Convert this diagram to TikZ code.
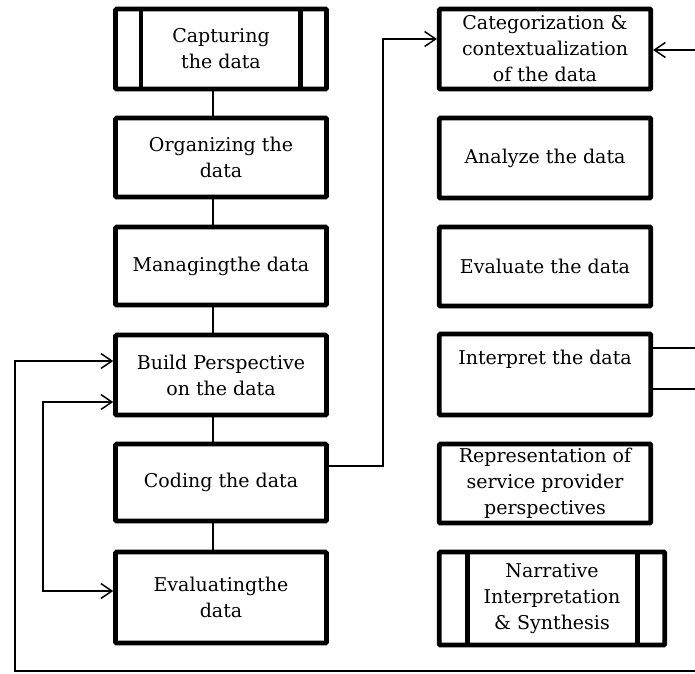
\documentclass[tikz,border=0pt]{standalone}
\usepackage{fontspec}
\setmainfont{DejaVu Serif}
\usetikzlibrary{arrows.meta}
\begin{document}
\begin{tikzpicture}[x=1pt,y=-1pt,
  box/.style={draw, line width=4.6pt, rounded corners=1pt, align=center,
    font=\fontsize{19}{26}\selectfont, inner sep=0pt},
  bar/.style={line width=4.6pt},
  link/.style={line width=1.5pt},
  arr/.style={link, -{Straight Barb[length=11pt,width=15pt]}},
  darr/.style={link, {Straight Barb[length=11pt,width=15pt]}-{Straight Barb[length=11pt,width=15pt]}}]
\useasboundingbox (0,0) rectangle (695,673);
% left column
\node[box, minimum width=211pt, minimum height=80pt] (L1) at (221,49) {Capturing\\the data};
\node[box, minimum width=211pt, minimum height=79pt] (L2) at (221,157.5) {Organizing the\\data};
\node[box, minimum width=211pt, minimum height=78pt] (L3) at (221,266) {Managingthe data};
\node[box, minimum width=211pt, minimum height=80pt] (L4) at (221,375) {Build Perspective\\on the data};
\node[box, minimum width=211pt, minimum height=77pt] (L5) at (221,482.5) {Coding the data};
\node[box, minimum width=211pt, minimum height=91pt] (L6) at (221,597.5) {Evaluatingthe\\data};
% right column
\node[box, minimum width=211.5pt, minimum height=80pt] (R1) at (545,49) {Categorization \&\\contextualization\\of the data};
\node[box, minimum width=211.5pt, minimum height=80pt] (R2) at (545,158) {Analyze the data};
\node[box, minimum width=211.5pt, minimum height=79pt] (R3) at (545,266.5) {Evaluate the data};
\node[box, minimum width=211.5pt, minimum height=81pt] (R4) at (545,374.5) {Interpret the data\\ \strut};
\node[box, minimum width=211.5pt, minimum height=79pt] (R5) at (545,483.5) {Representation of\\service provider\\perspectives};
\node[box, minimum width=225.5pt, minimum height=93pt] (R6) at (552,598.5) {Narrative\\Interpretation\\\& Synthesis};
% inner bars of predefined-process boxes
\draw[bar] (L1.north west -| 141,0) -- (L1.south west -| 141,0);
\draw[bar] (L1.north west -| 300.5,0) -- (L1.south west -| 300.5,0);
\draw[bar] (R6.north west -| 467.5,0) -- (R6.south west -| 467.5,0);
\draw[bar] (R6.north west -| 637.5,0) -- (R6.south west -| 637.5,0);
% spine
\coordinate (spine) at (213,0);
\draw[link] (L1.south -| spine) -- (L2.north -| spine);
\draw[link] (L2.south -| spine) -- (L3.north -| spine);
\draw[link] (L3.south -| spine) -- (L4.north -| spine);
\draw[link] (L4.south -| spine) -- (L5.north -| spine);
\draw[link] (L5.south -| spine) -- (L6.north -| spine);
% coding -> categorization
\coordinate (c1) at (383,466);
\coordinate (c2) at (383,39);
\draw[arr] (L5.east |- c1) -- (c1) -- (c2) -- (R1.west |- c2);
% incoming from right edge
\coordinate (rin) at (695,50);
\draw[arr] (rin) -- (R1.east |- rin);
% interpret outgoing lines
\coordinate (o1) at (695,348);
\coordinate (o2) at (695,389);
\draw[link] (R4.east |- o1) -- (o1);
\draw[link] (R4.east |- o2) -- (o2);
% outer feedback loop
\coordinate (f0) at (695,671);
\coordinate (f1) at (15,671);
\coordinate (f2) at (15,361);
\draw[arr] (f0) -- (f1) -- (f2) -- (L4.west |- f2);
% inner double loop
\coordinate (g1) at (43,402);
\coordinate (g2) at (43,591);
\draw[darr] (L4.west |- g1) -- (g1) -- (g2) -- (L6.west |- g2);
\end{tikzpicture}
\end{document}
